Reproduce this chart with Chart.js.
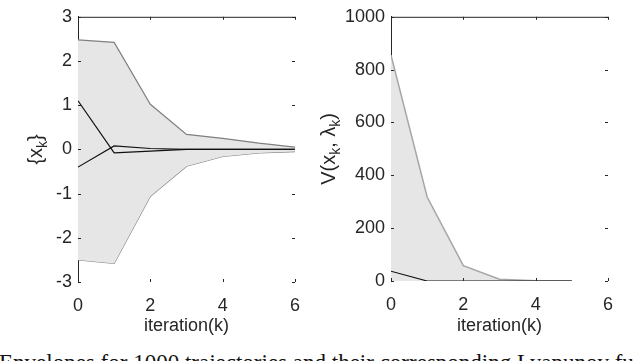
<!DOCTYPE html>
<html>
<head>
<meta charset="utf-8">
<script src="https://cdn.jsdelivr.net/npm/chart.js@4"></script>
<style>
  body { margin: 0; background: #fff; width: 640px; height: 361px; overflow: hidden; position: relative; }
  #left { position: absolute; left: 0; top: 0; }
  #right { position: absolute; left: 320px; top: 0; }
  #caption { position: absolute; left: -1px; top: 350px; white-space: nowrap;
    font-family: "Liberation Serif", "DejaVu Serif", serif; font-size: 23px; color: #111; }
</style>
</head>
<body>
<canvas id="left" width="320" height="340"></canvas>
<canvas id="right" width="320" height="340"></canvas>
<div id="caption">Envelopes for 1000 trajectories and their corresponding Lyapunov fu</div>
<script>
// Data
const iterations = [0, 1, 2, 3, 4, 5, 6];
const xUpper = [2.48, 2.42, 1.02, 0.34, 0.25, 0.14, 0.05];
const xLower = [-2.5, -2.58, -1.06, -0.38, -0.16, -0.08, -0.05];
const traj1 = [1.1, -0.08, -0.04, 0, 0, 0, 0];
const traj2 = [-0.4, 0.08, 0.02, 0, 0, 0, 0];

const vIterations = [0, 1, 2, 3, 4, 5];
const vUpper = [855, 318, 58, 7, 1, 0.5];
const vTraj = [37, 0, 0, 0, 0, 0];

const xTicks = [0, 2, 4, 6];

const TXT = '#262626';
const FONT = '"Liberation Sans", Arial, sans-serif';

function pts(xs, ys) { return ys.map((y, i) => ({ x: xs[i], y: y })); }

// inward ticks on all four sides, left/top axis lines, rotated y label with subscripts
const matlabBox = {
    id: 'matlabBox',
    afterDraw(chart, args, opts) {
        const { ctx, chartArea: a, scales } = chart;
        ctx.save();
        ctx.strokeStyle = TXT;
        ctx.lineWidth = 1;
        ctx.beginPath();
        ctx.moveTo(a.left + 0.5, a.top + 0.5);
        ctx.lineTo(a.right, a.top + 0.5);
        ctx.stroke();
        ctx.beginPath();
        scales.y.ticks.forEach(t => {
            const py = Math.round(scales.y.getPixelForValue(t.value)) + 0.5;
            ctx.moveTo(a.left, py); ctx.lineTo(a.left + 3, py);
            ctx.moveTo(a.right, py); ctx.lineTo(a.right - 3, py);
        });
        scales.x.ticks.forEach(t => {
            const px = Math.round(scales.x.getPixelForValue(t.value)) + 0.5;
            ctx.moveTo(px, a.top); ctx.lineTo(px, a.top + 3);
            ctx.moveTo(px, a.bottom); ctx.lineTo(px, a.bottom - 3);
        });
        ctx.stroke();

        // y title
        const parts = opts.label;
        const big = '20px ' + FONT, small = '14px ' + FONT;
        let w = 0;
        parts.forEach(p => { ctx.font = p.sub ? small : big; w += ctx.measureText(p.t).width; });
        ctx.translate(opts.x, (a.top + a.bottom) / 2);
        ctx.rotate(-Math.PI / 2);
        ctx.fillStyle = TXT;
        ctx.textBaseline = 'alphabetic';
        let cx = -w / 2;
        parts.forEach(p => {
            ctx.font = p.sub ? small : big;
            ctx.fillText(p.t, cx, p.sub ? 10 : 5);
            cx += ctx.measureText(p.t).width;
        });
        ctx.restore();
    }
};

function makeOptions(yMin, yMax, yStep, yWidth, xHeight, padRight, label, labelX) {
    return {
        responsive: false,
        animation: false,
        layout: { padding: { top: 5, right: padRight, left: 0, bottom: 0 } },
        plugins: {
            legend: { display: false },
            tooltip: { enabled: false },
            matlabBox: { label: label, x: labelX }
        },
        elements: { point: { radius: 0 }, line: { tension: 0 } },
        scales: {
            x: {
                type: 'linear', min: 0, max: 6,
                grid: { display: false, drawTicks: false },
                border: { display: false },
                afterBuildTicks: s => { s.ticks = xTicks.map(v => ({ value: v })); },
                afterFit: s => { s.height = xHeight; },
                ticks: { padding: 13, color: TXT, font: { family: FONT, size: 18 }, maxRotation: 0 },
                title: { display: true, text: 'iteration(k)', color: TXT, padding: { top: 0, bottom: 3 },
                    font: { family: FONT, size: 18 } }
            },
            y: {
                min: yMin, max: yMax,
                grid: { display: false, drawTicks: false },
                border: { display: true, color: TXT, width: 1 },
                ticks: { stepSize: yStep, padding: 6, color: TXT, font: { family: FONT, size: 18 },
                    callback: v => String(v) },
                afterFit: s => { s.width = yWidth; }
            }
        }
    };
}

new Chart(document.getElementById('left'), {
    type: 'line',
    data: {
        datasets: [
            { data: pts(iterations, xUpper), borderColor: '#808080', borderWidth: 1.2, backgroundColor: '#e6e6e6', fill: '+1', order: 2 },
            { data: pts(iterations, xLower), borderColor: '#808080', borderWidth: 1.2, fill: false, order: 2 },
            { data: pts(iterations, traj1), borderColor: '#111', borderWidth: 1.2, fill: false, order: 0 },
            { data: pts(iterations, traj2), borderColor: '#111', borderWidth: 1.2, fill: false, order: 0 }
        ]
    },
    options: makeOptions(-3, 3, 1, 78, 58, 25,
        [{ t: '{x' }, { t: 'k', sub: true }, { t: '}' }], 37),
    plugins: [matlabBox]
});

new Chart(document.getElementById('right'), {
    type: 'line',
    data: {
        datasets: [
            { data: pts(vIterations, vUpper), borderColor: '#a6a6a6', borderWidth: 1.5, backgroundColor: '#e6e6e6', fill: 'origin', order: 2 },
            { data: pts(vIterations, vTraj), borderColor: '#111', borderWidth: 1.2, fill: false, order: 0 }
        ]
    },
    options: makeOptions(0, 1000, 200, 71, 59, 32,
        [{ t: 'V(x' }, { t: 'k', sub: true }, { t: ', λ' }, { t: 'k', sub: true }, { t: ')' }], 10),
    plugins: [matlabBox]
});
</script>
</body>
</html>
